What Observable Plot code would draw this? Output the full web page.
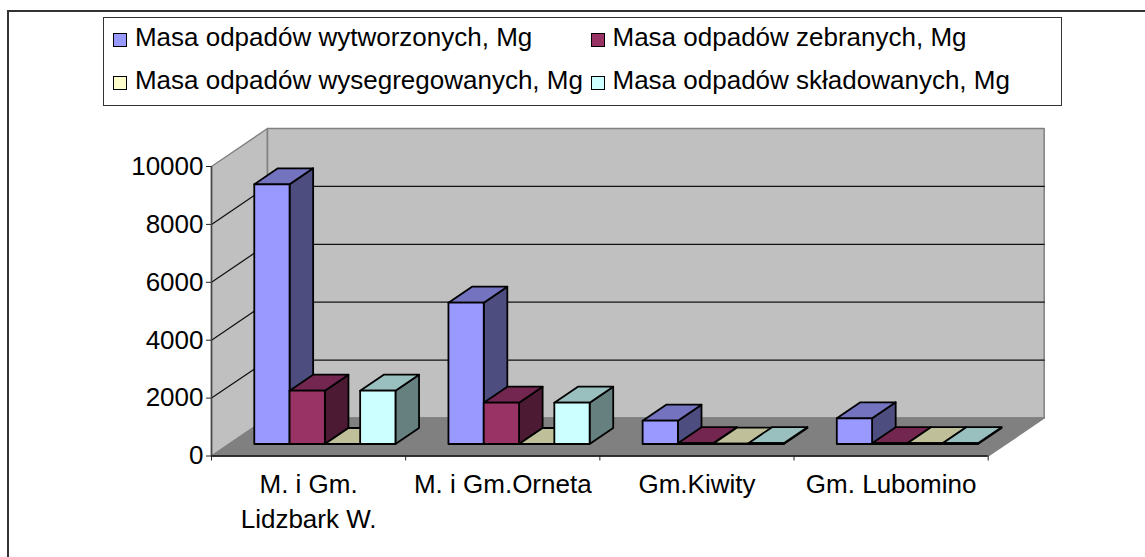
<!DOCTYPE html>
<html>
<head>
<meta charset="utf-8">
<script src="https://cdn.jsdelivr.net/npm/d3@7"></script>
<script src="https://cdn.jsdelivr.net/npm/@observablehq/plot@0.6"></script>
<style>
html,body{margin:0;padding:0;background:#fff;overflow:hidden}
#page{position:relative;width:1145px;height:557px;overflow:hidden;font-family:"Liberation Sans",Arial,sans-serif;color:#000}
#frame{position:absolute;left:7px;top:10px;right:-5px;bottom:-5px;border-top:2px solid #333;border-left:2px solid #333}
#legend{position:absolute;left:103px;top:17px;width:957px;height:87px;border:1px solid #333;background:#fff;display:grid;grid-template-columns:477.6px 1fr;grid-auto-rows:43.5px;box-sizing:content-box}
.item{display:flex;align-items:center;font-size:26px;white-space:pre;padding-left:9.4px}
.item .t{position:relative;top:-2.5px}
.sw{width:12px;height:12px;border:1.5px solid #000;margin-right:7.5px;flex:none}
#chart{position:absolute;left:0;top:110px}
</style>
</head>
<body>
<div id="page"><div id="frame"></div><div id="legend"></div><div id="chart"></div></div>
<script>
const categories = ["M. i Gm.\nLidzbark W.", "M. i Gm.Orneta", "Gm.Kiwity", "Gm. Lubomino"];
const seriesNames = ["Masa odpadów wytworzonych, Mg", "Masa odpadów zebranych, Mg", "Masa odpadów wysegregowanych, Mg", "Masa odpadów składowanych, Mg"];
const wytworzone = [8970, 4880, 805, 888];
const zebrane = [1841, 1427, 30, 30];
const wysegregowane = [0, 0, 10, 30];
const skladowane = [1841, 1427, 30, 30];
const yTicks = [0, 2000, 4000, 6000, 8000, 10000];
const frontColors = ["#9999ff", "#993366", "#ffffcc", "#ccffff"];
const topColors = ["#7373bf", "#732650", "#bfbf99", "#99bfbf"];
const sideColors = ["#4d4d80", "#4d1a33", "#808066", "#668080"];

const seriesValues = [wytworzone, zebrane, wysegregowane, skladowane];

// legend
const legend = d3.select("#legend");
[0, 1, 2, 3].forEach(i => {
  const it = legend.append("div").attr("class", "item");
  it.append("span").attr("class", "sw").style("background", frontColors[i]);
  it.append("span").attr("class", "t").text(seriesNames[i]);
});

// oblique projection, in data units
const W = 1145, H = 447;
const depthX = 56 / 194.2, depthY = 38 / 0.02895;
const P = (x, v, d = 0) => [x + d * depthX, v + d * depthY];
const maxY = yTicks[yTicks.length - 1], nCat = categories.length;

let fid = 0;
const poly = (pts, shade) => {
  const z = fid++;
  return pts.map(([x, y]) => ({x, y, z, shade}));
};

const walls = [
  ...poly([P(0, 0), P(0, maxY), P(0, maxY, 1), P(0, 0, 1)], "#c0c0c0"),
  ...poly([P(0, 0, 1), P(0, maxY, 1), P(nCat, maxY, 1), P(nCat, 0, 1)], "#c0c0c0"),
  ...poly([P(0, 0), P(0, 0, 1), P(nCat, 0, 1), P(nCat, 0)], "#808080")
];
const grid = yTicks.slice(1, -1).flatMap(v => {
  const z = fid++;
  return [P(0, v), P(0, v, 1), P(nCat, v, 1)].map(([x, y]) => ({x, y, z}));
});

const pad = 25.1 / 194.2, bw = 35.3 / 194.2, d0 = 12 / 38, d1 = 28 / 38;
const faces = [];
categories.forEach((c, ci) => {
  seriesValues.forEach((vals, si) => {
    const v = vals[ci];
    const a = ci + pad + si * bw, b = a + bw;
    faces.push(...poly([P(b, 0, d0), P(b, v, d0), P(b, v, d1), P(b, 0, d1)], sideColors[si]));
    faces.push(...poly([P(a, v, d0), P(a, v, d1), P(b, v, d1), P(b, v, d0)], topColors[si]));
    faces.push(...poly([P(a, 0, d0), P(a, v, d0), P(b, v, d0), P(b, 0, d0)], frontColors[si]));
  });
});

const labels = categories.map((c, i) => ({c, x: i + 0.5}));

const chart = Plot.plot({
  width: W, height: H,
  marginLeft: 211, marginRight: W - 987.7,
  marginTop: 56, marginBottom: 101.5,
  x: {domain: [0, nCat]},
  y: {domain: [0, maxY]},
  color: {type: "identity"},
  style: {fontFamily: "'Liberation Sans', Arial, sans-serif", background: "transparent", overflow: "visible", color: "#000"},
  marks: [
    Plot.line(walls, {x: "x", y: "y", z: "z", fill: "shade", stroke: "#808080", strokeWidth: 1.5, curve: "linear-closed"}),
    Plot.line(grid, {x: "x", y: "y", z: "z", stroke: "#111", strokeWidth: 1.25}),
    Plot.line(faces, {x: "x", y: "y", z: "z", fill: "shade", stroke: "#000", strokeWidth: 1.8, curve: "linear-closed"}),
    Plot.ruleY([0], {stroke: "#111", strokeWidth: 1.5}),
    Plot.ruleX([0], {y1: 0, y2: maxY, stroke: "#444", strokeWidth: 1.5}),
    Plot.axisY({ticks: yTicks, tickSize: 5, tickPadding: 3, fontSize: 26, label: null, stroke: "#222", tickFormat: d => String(d)}),
    Plot.axisX({ticks: d3.range(nCat + 1), tickSize: 5, tickFormat: () => "", label: null, stroke: "#222"}),
    Plot.text(labels, {x: "x", y: () => 0, text: "c", dy: 12.5, lineAnchor: "top", lineHeight: 1.33, fontSize: 26, fill: "#000"})
  ]
});
document.getElementById("chart").appendChild(chart);
</script>
</body>
</html>
